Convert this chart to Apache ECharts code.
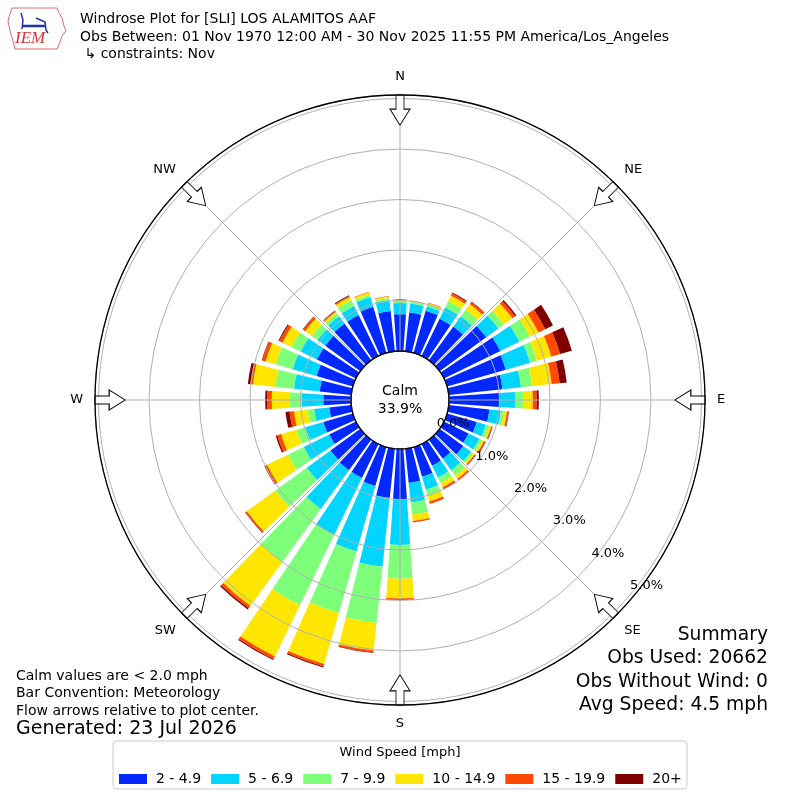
<!DOCTYPE html>
<html><head><meta charset="utf-8">
<script src="https://cdn.jsdelivr.net/npm/echarts@6/dist/echarts.min.js"></script>
<style>html,body{margin:0;padding:0;background:#fff}#c{width:800px;height:800px}</style>
</head><body><div id="c"></div>
<script>
// ---- data ----
const directions = ['0','10','20','30','40','50','60','70','80','90','100','110','120','130','140','150','160','170',
  '180','190','200','210','220','230','240','250','260','270','280','290','300','310','320','330','340','350'];
const bins = ['2 - 4.9', '5 - 6.9', '7 - 9.9', '10 - 14.9', '15 - 19.9', '20+'];
const binColors = ['#0028ff', '#00d4ff', '#7dff7a', '#ffe600', '#ff4a00', '#800000'];
// percent of observations per direction (stacked)
const speed2to5   = [0.73,0.77,0.87,0.82,0.83,1.14,1.24,1.21,1.07,1.00,0.81,0.61,0.54,0.58,0.47,0.48,0.61,0.68,1.00,0.98,0.80,0.75,0.75,0.73,0.59,0.61,0.44,0.55,0.63,0.75,0.86,0.86,0.90,0.90,0.95,0.80];
const speed5to7   = [0.22,0.18,0.09,0.25,0.25,0.30,0.42,0.50,0.37,0.31,0.23,0.19,0.24,0.19,0.28,0.26,0.27,0.39,0.90,1.37,1.35,1.25,0.95,0.58,0.56,0.37,0.30,0.43,0.51,0.49,0.36,0.19,0.18,0.20,0.20,0.22];
const speed7to10  = [0.04,0.04,0.04,0.14,0.16,0.13,0.23,0.14,0.22,0.16,0.06,0.07,0.06,0.05,0.13,0.12,0.12,0.24,0.67,1.12,1.27,1.55,1.30,0.77,0.35,0.18,0.13,0.23,0.37,0.35,0.20,0.14,0.07,0.13,0.05,0.04];
const speed10to15 = [0.02,0.01,0.03,0.12,0.14,0.21,0.19,0.30,0.39,0.19,0.06,0.04,0.04,0.04,0.08,0.09,0.12,0.13,0.39,0.55,1.05,1.13,1.07,0.70,0.46,0.32,0.27,0.36,0.45,0.21,0.20,0.16,0.04,0.07,0.05,0.03];
const speed15to20 = [0.01,0.01,0.01,0.05,0.05,0.07,0.15,0.18,0.16,0.08,0.03,0.02,0.03,0.02,0.04,0.04,0.05,0.03,0.02,0.04,0.05,0.06,0.06,0.03,0.05,0.08,0.09,0.09,0.05,0.07,0.07,0.05,0.02,0.02,0.01,0.01];
const speed20plus = [0.00,0.00,0.00,0.02,0.01,0.03,0.17,0.24,0.14,0.04,0.01,0.01,0.01,0.01,0.00,0.01,0.00,0.00,0.01,0.01,0.02,0.02,0.03,0.01,0.01,0.03,0.08,0.04,0.05,0.01,0.02,0.01,0.01,0.02,0.00,0.00];
const calmPct = 33.9;
const compassNames = ['N','NE','E','SE','S','SW','W','NW'];
const compassAngles = [0,45,90,135,180,225,270,315];
const summaryLines = ['Summary', 'Obs Used: 20662', 'Obs Without Wind: 0', 'Avg Speed: 4.5 mph'];
const noteLines = ['Calm values are < 2.0 mph', 'Bar Convention: Meteorology', 'Flow arrows relative to plot center.'];
const generatedText = 'Generated: 23 Jul 2026';
const titleLines = ['Windrose Plot for [SLI] LOS ALAMITOS AAF',
  'Obs Between: 01 Nov 1970 12:00 AM - 30 Nov 2025 11:55 PM America/Los_Angeles',
  ' \u21b3 constraints: Nov'];

// ---- layout ----
const binValues = [speed2to5, speed5to7, speed7to10, speed10to15, speed15to20, speed20plus];
const FONT = 'DejaVu Sans';
const CENTER = ['50%', '50%'];
const RADIUS = [49, 305];
const LABEL_RADIUS = [56, 312];
const RMAX = 5.07;
const ARROW_R = 4.77;
const ARROW = 'path://M-4,0 L4,0 L4,14 L10,14 L0,30 L-10,14 L-4,14 Z';

const chart = echarts.init(document.getElementById('c'), null, {renderer: 'canvas', width: 800, height: 800});

const graphic = [];
// logo
graphic.push({type: 'polygon', shape: {points: [[12,8],[57,8],[59,13],[62,18],[64,26],[66,31],[62,36],[60,42],[57,49],[15,49],[13,41],[10,31],[8,21],[10,14]]},
  style: {fill: 'none', stroke: '#e46a6a', lineWidth: 1}, z: 10});
graphic.push({type: 'polyline', shape: {points: [[22,26],[46,26]]}, style: {stroke: '#2233aa', lineWidth: 2.5}, z: 10});
graphic.push({type: 'polyline', shape: {points: [[21,13],[23,20],[22,29]]}, style: {stroke: '#2233aa', lineWidth: 1.5}, z: 10});
graphic.push({type: 'polyline', shape: {points: [[36,18],[45,22],[46,30],[48,33]]}, style: {stroke: '#2233aa', lineWidth: 1.5}, z: 10});
graphic.push({type: 'text', x: 15, y: 39, style: {text: 'IEM', font: 'italic 17px "Liberation Serif"', fill: '#e0302f', textVerticalAlign: 'middle'}, z: 10});
// titles
titleLines.forEach((t, i) => graphic.push({type: 'text', x: 80, y: [19, 37, 54][i],
  style: {text: t, font: '14px "' + FONT + '"', fill: '#000', textVerticalAlign: 'middle'}, z: 10}));
// notes
noteLines.forEach((t, i) => graphic.push({type: 'text', x: 16, y: 676 + i * 17.5,
  style: {text: t, font: '14px "' + FONT + '"', fill: '#000', textVerticalAlign: 'middle'}, z: 10}));
graphic.push({type: 'text', x: 16, y: 729, style: {text: generatedText, font: '19px "' + FONT + '"', fill: '#000', textVerticalAlign: 'middle'}, z: 10});
// summary
summaryLines.forEach((t, i) => graphic.push({type: 'text', x: 768, y: 635 + i * 23.5,
  style: {text: t, font: '18.7px "' + FONT + '"', fill: '#000', textAlign: 'right', textVerticalAlign: 'middle'}, z: 10}));
// legend frame
graphic.push({type: 'rect', shape: {x: 113, y: 741, width: 574, height: 48, r: 4},
  style: {fill: '#fff', stroke: '#cccccc', lineWidth: 1}, z: 0});
graphic.push({type: 'text', x: 400, y: 753, style: {text: 'Wind Speed [mph]', font: '13px "' + FONT + '"', fill: '#000', textAlign: 'center', textVerticalAlign: 'middle'}, z: 10});

const series = bins.map((name, i) => ({
  type: 'bar', name, coordinateSystem: 'polar', polarIndex: 0, stack: 'ws',
  data: binValues[i], barCategoryGap: '20%', itemStyle: {color: binColors[i]}, z: 2, silent: true
}));
series.push({
  type: 'pie', center: CENTER, radius: [0, RADIUS[0]], silent: true, z: 1,
  data: [{name: 'Calm', value: calmPct}], itemStyle: {color: '#fff', borderColor: '#000', borderWidth: 1.2},
  label: {show: true, position: 'center', formatter: '{b}\n{c}%', fontSize: 14, lineHeight: 18, color: '#000', fontFamily: FONT},
  labelLine: {show: false}, emphasis: {disabled: true}
});
series.push({
  type: 'scatter', coordinateSystem: 'polar', polarIndex: 1, z: 7, silent: true,
  symbol: ARROW, symbolSize: [20, 30], symbolRotate: (v) => -v[1],
  itemStyle: {color: '#fff', borderColor: '#000', borderWidth: 1, opacity: 1},
  data: compassAngles.map(a => [ARROW_R, a])
});

chart.setOption({
  animation: false,
  backgroundColor: '#fff',
  textStyle: {fontFamily: FONT},
  polar: [{center: CENTER, radius: RADIUS}, {center: CENTER, radius: RADIUS}, {center: CENTER, radius: LABEL_RADIUS}],
  angleAxis: [
    {polarIndex: 0, type: 'category', data: directions, startAngle: 95, clockwise: true, show: false},
    {polarIndex: 1, type: 'value', min: 0, max: 360, interval: 45, startAngle: 90, clockwise: true, z: 3,
      axisLine: {show: true, lineStyle: {color: '#000', width: 1.3}},
      axisTick: {show: false},
      splitLine: {show: true, lineStyle: {color: '#b0b0b0', width: 1}},
      axisLabel: {show: true, margin: 12, fontFamily: FONT, fontSize: 13, color: '#000',
        formatter: v => compassNames[Math.round(v / 45) % 8]}},
    {polarIndex: 2, type: 'value', min: 0, max: 360, startAngle: -40, show: false}
  ],
  radiusAxis: [
    {polarIndex: 0, type: 'value', min: 0, max: RMAX, show: false},
    {polarIndex: 1, type: 'value', min: 0, max: RMAX, interval: 1, z: 3,
      axisLine: {show: false}, axisTick: {show: false}, axisLabel: {show: false},
      splitLine: {show: true, lineStyle: {color: '#b0b0b0', width: 1}}},
    {polarIndex: 2, type: 'value', min: 0, max: RMAX, interval: 1, z: 8,
      axisLine: {show: false}, axisTick: {show: false}, splitLine: {show: false},
      axisLabel: {show: true, margin: 16, align: 'center', verticalAlign: 'middle',
        fontFamily: FONT, fontSize: 13, color: '#000',
        formatter: v => Math.abs(v - Math.round(v)) < 1e-6 ? v.toFixed(1) + '%' : ''}}
  ],
  legend: {data: bins, left: 119, top: 772, padding: 0, itemWidth: 28, itemHeight: 10, itemGap: 10, icon: 'rect',
    selectedMode: false, textStyle: {fontFamily: FONT, fontSize: 14, color: '#000', padding: [0, 0, 0, 4]}},
  graphic,
  series
});
</script>
</body></html>
